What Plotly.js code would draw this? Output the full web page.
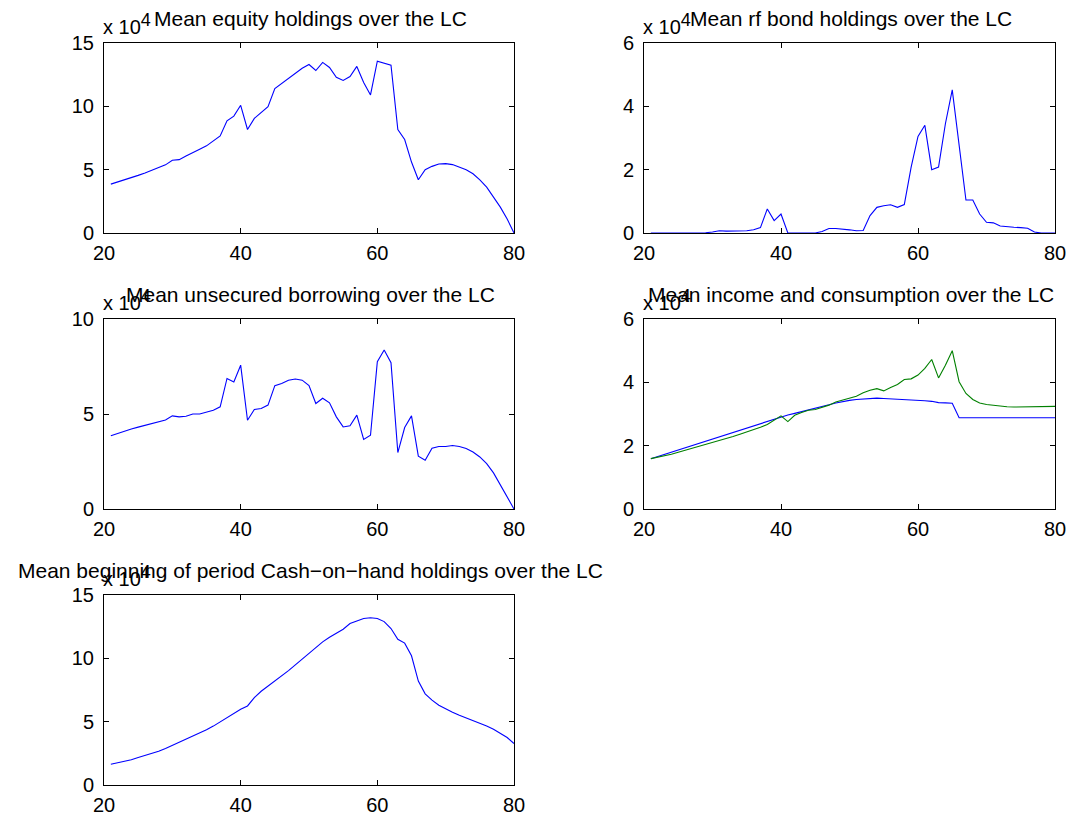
<!DOCTYPE html>
<html>
<head>
<meta charset="utf-8">
<script src="https://cdn.plot.ly/plotly-3.0.1.min.js"></script>
<style>
  html, body { margin: 0; padding: 0; background: #fff; }
  #chart { width: 1073px; height: 816px; }
</style>
</head>
<body>
<div id="chart"></div>
<script>
// Life-cycle profiles, ages 21..80; values in units of 10^4
const ages = [21,22,23,24,25,26,27,28,29,30,31,32,33,34,35,36,37,38,39,40,
              41,42,43,44,45,46,47,48,49,50,51,52,53,54,55,56,57,58,59,60,
              61,62,63,64,65,66,67,68,69,70,71,72,73,74,75,76,77,78,79,80];

const equity = [3.86,4.02,4.19,4.37,4.55,4.74,4.94,5.15,5.38,5.74,
                5.79,6.08,6.38,6.62,6.88,7.25,7.66,8.86,9.23,10.08,
                8.17,9.05,9.5,9.97,11.4,11.8,12.2,12.6,13.0,13.3,
                12.83,13.47,13.07,12.3,12.04,12.35,13.15,11.88,10.9,13.57,
                13.41,13.25,8.17,7.38,5.6,4.2,5.0,5.26,5.45,5.48,
                5.4,5.2,5.0,4.68,4.2,3.62,2.83,2.04,1.11,0];

const rfBonds = [0,0,0,0,0,0,0,0,0.01,0.03,
                 0.07,0.06,0.06,0.05,0.07,0.1,0.17,0.76,0.39,0.6,
                 0,0,0,0,0,0.05,0.14,0.14,0.13,0.1,
                 0.07,0.08,0.55,0.81,0.86,0.89,0.81,0.9,2.08,3.05,
                 3.4,2.0,2.08,3.45,4.52,2.8,1.04,1.04,0.6,0.34,
                 0.32,0.22,0.19,0.18,0.17,0.15,0.03,0,0,0];

const borrowing = [3.85,3.98,4.1,4.21,4.31,4.41,4.5,4.6,4.68,4.9,
                   4.85,4.88,5.0,5.0,5.08,5.2,5.38,6.87,6.68,7.57,
                   4.67,5.24,5.29,5.47,6.49,6.61,6.78,6.84,6.78,6.5,
                   5.55,5.83,5.59,4.85,4.32,4.38,4.94,3.66,3.88,7.75,
                   8.37,7.7,2.97,4.29,4.9,2.78,2.57,3.2,3.29,3.29,
                   3.34,3.29,3.18,3.0,2.74,2.39,1.9,1.27,0.63,0];

const income = [1.59,1.66,1.73,1.80,1.87,1.94,2.01,2.08,2.15,2.22,
                2.29,2.36,2.43,2.50,2.57,2.64,2.71,2.78,2.85,2.91,
                2.97,3.02,3.07,3.13,3.18,3.23,3.29,3.35,3.40,3.43,
                3.46,3.48,3.49,3.50,3.49,3.48,3.47,3.47,3.46,3.44,
                3.42,3.40,3.36,3.35,3.34,2.88,2.88,2.88,2.88,2.88,
                2.88,2.88,2.88,2.88,2.88,2.88,2.88,2.88,2.88,2.88];

const consumption = [1.59,1.63,1.68,1.73,1.79,1.85,1.91,1.97,2.03,2.09,
                     2.16,2.23,2.29,2.36,2.43,2.50,2.58,2.67,2.81,2.94,
                     2.76,2.96,3.05,3.12,3.14,3.2,3.28,3.38,3.44,3.49,
                     3.56,3.67,3.75,3.8,3.73,3.84,3.93,4.09,4.11,4.23,
                     4.44,4.72,4.14,4.54,5.0,4.02,3.65,3.46,3.35,3.3,
                     3.27,3.24,3.23,3.22,3.22,3.22,3.22,3.22,3.23,3.24];

const cashOnHand = [1.64,1.74,1.87,2.0,2.17,2.32,2.48,2.67,2.88,3.12,
                    3.35,3.62,3.86,4.09,4.36,4.65,4.99,5.33,5.68,5.98,
                    6.24,6.9,7.4,7.79,8.19,8.58,9.03,9.48,9.95,10.38,
                    10.83,11.3,11.67,12.0,12.3,12.75,12.95,13.15,13.2,13.15,
                    12.9,12.35,11.5,11.2,10.2,8.2,7.2,6.7,6.3,6.0,
                    5.75,5.5,5.3,5.1,4.9,4.65,4.4,4.1,3.75,3.27];

const xTicks = [20, 40, 60, 80];
const yTicks15 = [0, 5, 10, 15];
const yTicks6 = [0, 2, 4, 6];
const yTicks10 = [0, 5, 10];

const panelTitles = [
  'Mean equity holdings over the LC',
  'Mean rf bond holdings over the LC',
  'Mean unsecured borrowing over the LC',
  'Mean income and consumption over the LC',
  'Mean beginning of period Cash\u2212on\u2212hand holdings over the LC'
];
const multiplierLabel = 'x 10<sup><span style="font-size:18px">4</span></sup>';

// ---- page geometry (pixels -> paper fractions) ----
const W = 1073, H = 816;
const fx = px => px / W;
const fy = px => 1 - px / H;
const FONT = 'Liberation Sans, Arial, Helvetica, sans-serif';

// plot-box edges in pixels: [left, right, top, bottom]
const boxes = [
  [104, 514, 43, 233],
  [644, 1055, 43, 233],
  [104, 514, 319, 509],
  [644, 1055, 319, 509],
  [104, 514, 595, 785]
];
const yRanges = [[0, 15], [0, 6], [0, 10], [0, 6], [0, 15]];
const yTickSets = [yTicks15, yTicks6, yTicks10, yTicks6, yTicks15];

function axisStyle(extra) {
  return Object.assign({
    showline: true, linecolor: '#000', linewidth: 1, mirror: 'ticks',
    ticks: 'inside', ticklen: 5, tickwidth: 1, tickcolor: '#000',
    showgrid: false, zeroline: false, fixedrange: true,
    tickmode: 'array',
    tickfont: { family: FONT, size: 20, color: '#000' }
  }, extra);
}

const layout = {
  width: W, height: H,
  margin: { l: 0, r: 0, t: 0, b: 0 },
  paper_bgcolor: '#fff', plot_bgcolor: '#fff',
  showlegend: false,
  annotations: []
};

boxes.forEach((b, i) => {
  const n = i + 1;
  const xk = n === 1 ? 'xaxis' : 'xaxis' + n;
  const yk = n === 1 ? 'yaxis' : 'yaxis' + n;
  layout[xk] = axisStyle({
    domain: [fx(b[0]), fx(b[1])], range: [20, 80],
    tickvals: xTicks, ticktext: xTicks.map(String),
    ticklabelstandoff: 2,
    anchor: 'y' + (n === 1 ? '' : n)
  });
  layout[yk] = axisStyle({
    domain: [fy(b[3]), fy(b[2])], range: yRanges[i],
    tickvals: yTickSets[i], ticktext: yTickSets[i].map(String),
    ticklabelstandoff: 5,
    anchor: 'x' + (n === 1 ? '' : n)
  });
  // panel title, centred over the plot box
  layout.annotations.push({
    xref: 'paper', yref: 'paper',
    x: fx((b[0] + b[1]) / 2 + 1), y: fy(b[2] - 12),
    xanchor: 'center', yanchor: 'bottom', showarrow: false, borderpad: 0,
    text: panelTitles[i], font: { family: FONT, size: 21, color: '#000' }
  });
  // exponent multiplier at the top-left corner
  layout.annotations.push({
    xref: 'paper', yref: 'paper',
    x: fx(b[0] - 2), y: fy(b[2] - 4),
    xanchor: 'left', yanchor: 'bottom', showarrow: false, borderpad: 0,
    text: multiplierLabel, font: { family: FONT, size: 20, color: '#000' }
  });
});

const line = (y, n, color) => ({
  x: ages, y: y, type: 'scatter', mode: 'lines',
  xaxis: 'x' + (n === 1 ? '' : n), yaxis: 'y' + (n === 1 ? '' : n),
  line: { color: color, width: 1.1 }, hoverinfo: 'skip'
});

const data = [
  line(equity, 1, '#0000ff'),
  line(rfBonds, 2, '#0000ff'),
  line(borrowing, 3, '#0000ff'),
  line(income, 4, '#0000ff'),
  line(consumption, 4, '#008000'),
  line(cashOnHand, 5, '#0000ff')
];

Plotly.newPlot('chart', data, layout, { displayModeBar: false, staticPlot: true });
</script>
</body>
</html>
